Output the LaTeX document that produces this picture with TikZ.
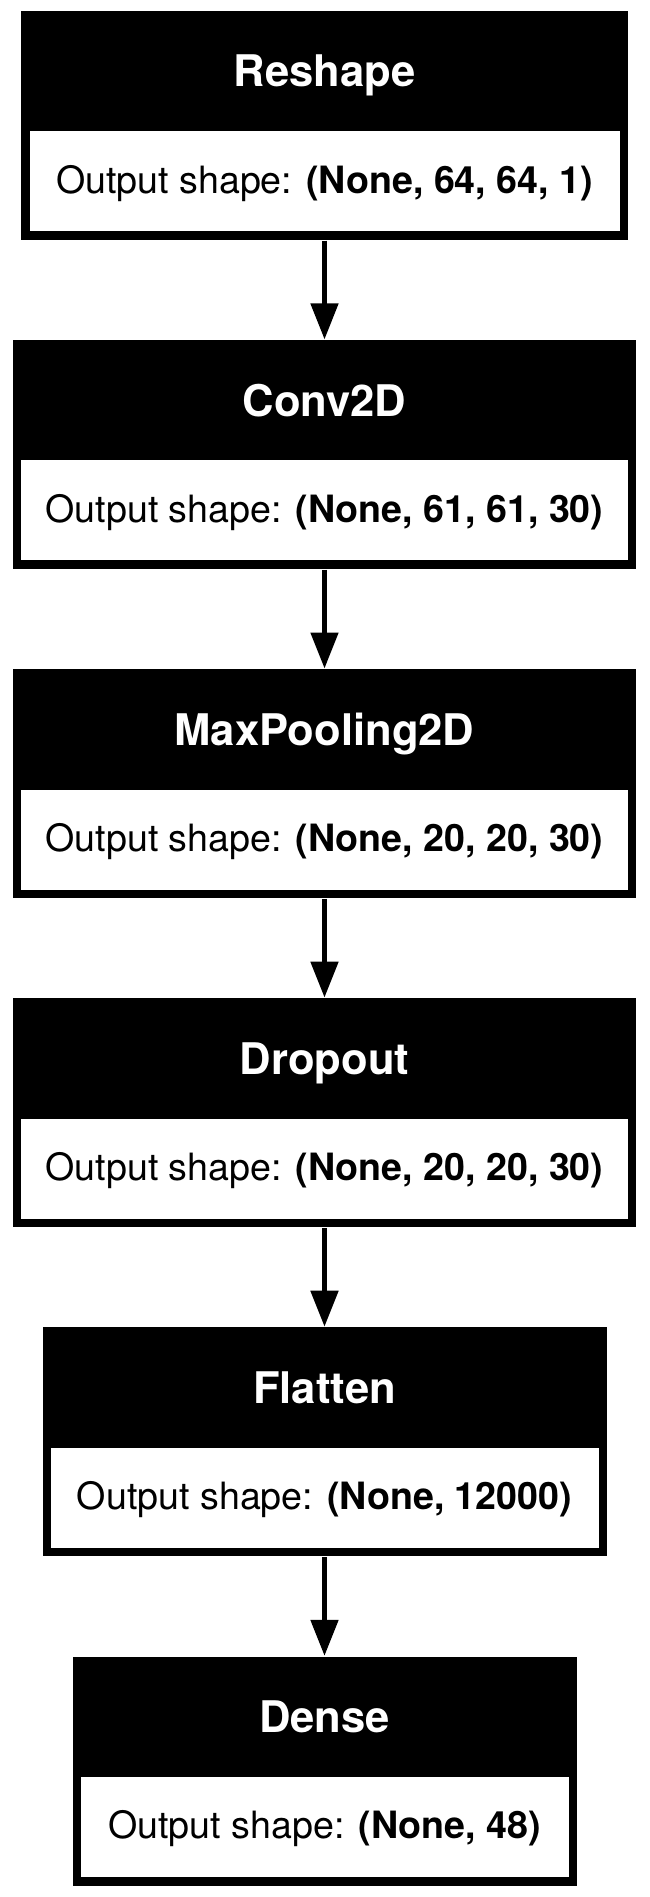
\documentclass[tikz,border=0pt]{standalone}
\usepackage{fontspec}
\setmainfont{TeX Gyre Heros}
\usetikzlibrary{arrows.meta}

\begin{document}
\begin{tikzpicture}[
        layerbox/.style={fill=black, inner sep=0pt, minimum height=2.29cm},
        titletext/.style={text=white, inner sep=0pt, anchor=base, font=\fontsize{12.4}{14}\selectfont\bfseries},
        shapebox/.style={fill=white, inner sep=0pt, minimum height=1.00cm, text height=0.30cm, text depth=0.06cm, font=\fontsize{10.7}{13}\selectfont},
        flow/.style={line width=0.05cm, -{Triangle[width=0.27cm, length=0.36cm]}}
    ]
        \useasboundingbox (0, 0) rectangle (6.49, -18.97);

        % Draw the layers of the model
        \node[layerbox, minimum width=6.06cm] (reshape) at (3.245, -1.255) {};
        \node[titletext] (reshapetitle) at ([yshift=-0.767cm]reshape.north) {Reshape};
        \node[shapebox, minimum width=5.90cm] (reshapeshape) at ([yshift=-1.71cm]reshape.north) {Output shape: \textbf{(None, 64, 64, 1)}};

        \node[layerbox, minimum width=6.22cm] (conv) at (3.245, -4.546) {};
        \node[titletext] (convtitle) at ([yshift=-0.767cm]conv.north) {Conv2D};
        \node[shapebox, minimum width=6.06cm] (convshape) at ([yshift=-1.71cm]conv.north) {Output shape: \textbf{(None, 61, 61, 30)}};

        \node[layerbox, minimum width=6.22cm] (pool) at (3.245, -7.837) {};
        \node[titletext] (pooltitle) at ([yshift=-0.767cm]pool.north) {MaxPooling2D};
        \node[shapebox, minimum width=6.06cm] (poolshape) at ([yshift=-1.71cm]pool.north) {Output shape: \textbf{(None, 20, 20, 30)}};

        \node[layerbox, minimum width=6.22cm] (dropout) at (3.245, -11.128) {};
        \node[titletext] (dropouttitle) at ([yshift=-0.767cm]dropout.north) {Dropout};
        \node[shapebox, minimum width=6.06cm] (dropoutshape) at ([yshift=-1.71cm]dropout.north) {Output shape: \textbf{(None, 20, 20, 30)}};

        \node[layerbox, minimum width=5.64cm] (flatten) at (3.245, -14.419) {};
        \node[titletext] (flattentitle) at ([yshift=-0.767cm]flatten.north) {Flatten};
        \node[shapebox, minimum width=5.48cm] (flattenshape) at ([yshift=-1.71cm]flatten.north) {Output shape: \textbf{(None, 12000)}};

        \node[layerbox, minimum width=5.04cm] (dense) at (3.245, -17.710) {};
        \node[titletext] (densetitle) at ([yshift=-0.767cm]dense.north) {Dense};
        \node[shapebox, minimum width=4.88cm] (denseshape) at ([yshift=-1.71cm]dense.north) {Output shape: \textbf{(None, 48)}};

        % Draw the arrows between the layers
        \draw[flow] (reshape.south) -- (conv.north);
        \draw[flow] (conv.south) -- (pool.north);
        \draw[flow] (pool.south) -- (dropout.north);
        \draw[flow] (dropout.south) -- (flatten.north);
        \draw[flow] (flatten.south) -- (dense.north);
    \end{tikzpicture}
\end{document}
